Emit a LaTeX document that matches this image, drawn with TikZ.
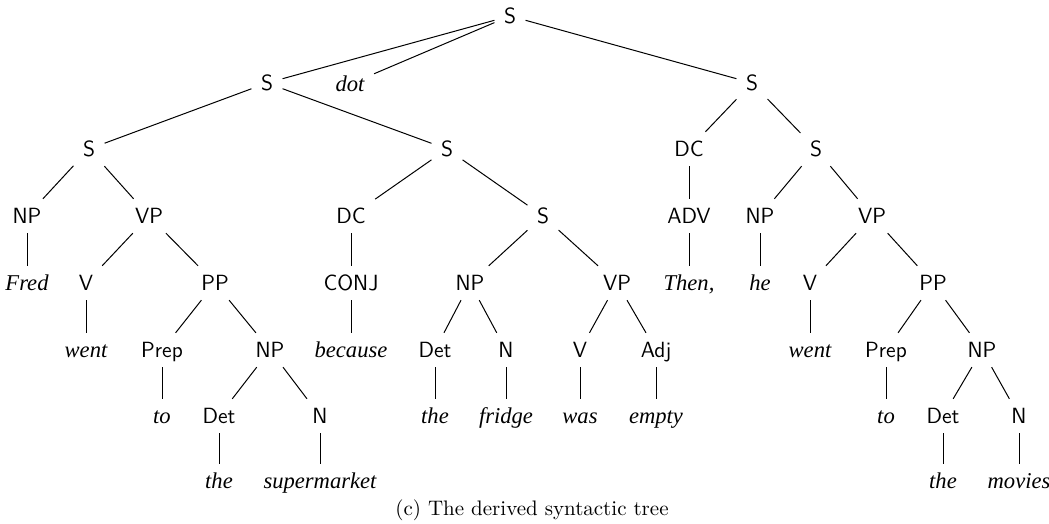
\documentclass[tikz,border=0pt]{standalone}
\usepackage{fontspec}
\newfontfamily\wordfont{Liberation Serif}
\begin{document}
\begin{tikzpicture}[x=0.5pt,y=-0.5pt,
  cat/.style={font=\sffamily\fontsize{11}{13}\selectfont, inner sep=4.6pt, text height=7.6pt, text depth=0pt, anchor=center},
  word/.style={font=\wordfont\itshape\fontsize{11.3}{13}\selectfont, inner sep=4.6pt, text height=7.6pt, text depth=0pt, anchor=center},
  br/.style={draw=black, line width=0.5pt}]
\useasboundingbox (0,0) rectangle (1049,524);
% level 0
\node[cat] (r) at (510,16) {S};
% level 1
\node[cat] (s1) at (267,83) {S};
\node[word] (dot) at (350,84) {dot};
\node[cat] (s2) at (752,83) {S};
% level 2
\node[cat] (a) at (89,149) {S};
\node[cat] (b) at (447,149) {S};
\node[cat] (c) at (689,149) {DC};
\node[cat] (d) at (816,149) {S};
% level 3
\node[cat] (a1) at (27,216) {NP};
\node[cat] (a2) at (149,216) {VP};
\node[cat] (b1) at (351,216) {DC};
\node[cat] (b2) at (543,216) {S};
\node[cat] (c1) at (689,216) {ADV};
\node[cat] (d1) at (760,216) {NP};
\node[cat] (d2) at (872,216) {VP};
% level 4
\node[word] (fred) at (27,283) {Fred};
\node[cat] (a21) at (86,283) {V};
\node[cat] (a22) at (215,283) {PP};
\node[cat] (b11) at (351,283) {CONJ};
\node[cat] (b21) at (470,283) {NP};
\node[cat] (b22) at (617,283) {VP};
\node[word] (then) at (689,283) {Then,};
\node[word] (he) at (760,283) {he};
\node[cat] (d21) at (810,283) {V};
\node[cat] (d22) at (933,283) {PP};
% level 5
\node[word] (went1) at (86,350) {went};
\node[cat] (prep1) at (162,350) {Prep};
\node[cat] (np1) at (270,350) {NP};
\node[word] (because) at (351,350) {because};
\node[cat] (det2) at (435,350) {Det};
\node[cat] (n2) at (506,350) {N};
\node[cat] (v2) at (580,350) {V};
\node[cat] (adj) at (656,350) {Adj};
\node[word] (went2) at (810,350) {went};
\node[cat] (prep3) at (886,350) {Prep};
\node[cat] (np3) at (982,350) {NP};
% level 6
\node[word] (to1) at (162,416) {to};
\node[cat] (det1) at (219,416) {Det};
\node[cat] (n1) at (320,416) {N};
\node[word] (the2) at (435,416) {the};
\node[word] (fridge) at (506,416) {fridge};
\node[word] (was) at (580,416) {was};
\node[word] (empty) at (656,416) {empty};
\node[word] (to3) at (886,416) {to};
\node[cat] (det3) at (943,416) {Det};
\node[cat] (n3) at (1019,416) {N};
% level 7
\node[word] (the1) at (219,481) {the};
\node[word] (supermarket) at (320,481) {supermarket};
\node[word] (the3) at (943,481) {the};
\node[word] (movies) at (1019,481) {movies};
% caption
\node[font=\fontsize{10.5}{12.5}\selectfont, inner sep=0pt, anchor=base] (cap) at (532,515) {(c) The derived syntactic tree};
% edges
\draw[br] (r) -- (s1);
\draw[br] (r) -- (dot);
\draw[br] (r) -- (s2);
\draw[br] (s1) -- (a);
\draw[br] (s1) -- (b);
\draw[br] (s2) -- (c);
\draw[br] (s2) -- (d);
\draw[br] (a) -- (a1);
\draw[br] (a) -- (a2);
\draw[br] (b) -- (b1);
\draw[br] (b) -- (b2);
\draw[br] (c) -- (c1);
\draw[br] (d) -- (d1);
\draw[br] (d) -- (d2);
\draw[br] (a1) -- (fred);
\draw[br] (a2) -- (a21);
\draw[br] (a2) -- (a22);
\draw[br] (b1) -- (b11);
\draw[br] (b2) -- (b21);
\draw[br] (b2) -- (b22);
\draw[br] (c1) -- (then);
\draw[br] (d1) -- (he);
\draw[br] (d2) -- (d21);
\draw[br] (d2) -- (d22);
\draw[br] (a21) -- (went1);
\draw[br] (a22) -- (prep1);
\draw[br] (a22) -- (np1);
\draw[br] (b11) -- (because);
\draw[br] (b21) -- (det2);
\draw[br] (b21) -- (n2);
\draw[br] (b22) -- (v2);
\draw[br] (b22) -- (adj);
\draw[br] (d21) -- (went2);
\draw[br] (d22) -- (prep3);
\draw[br] (d22) -- (np3);
\draw[br] (prep1) -- (to1);
\draw[br] (np1) -- (det1);
\draw[br] (np1) -- (n1);
\draw[br] (det2) -- (the2);
\draw[br] (n2) -- (fridge);
\draw[br] (v2) -- (was);
\draw[br] (adj) -- (empty);
\draw[br] (prep3) -- (to3);
\draw[br] (np3) -- (det3);
\draw[br] (np3) -- (n3);
\draw[br] (det1) -- (the1);
\draw[br] (n1) -- (supermarket);
\draw[br] (det3) -- (the3);
\draw[br] (n3) -- (movies);
\end{tikzpicture}
\end{document}
